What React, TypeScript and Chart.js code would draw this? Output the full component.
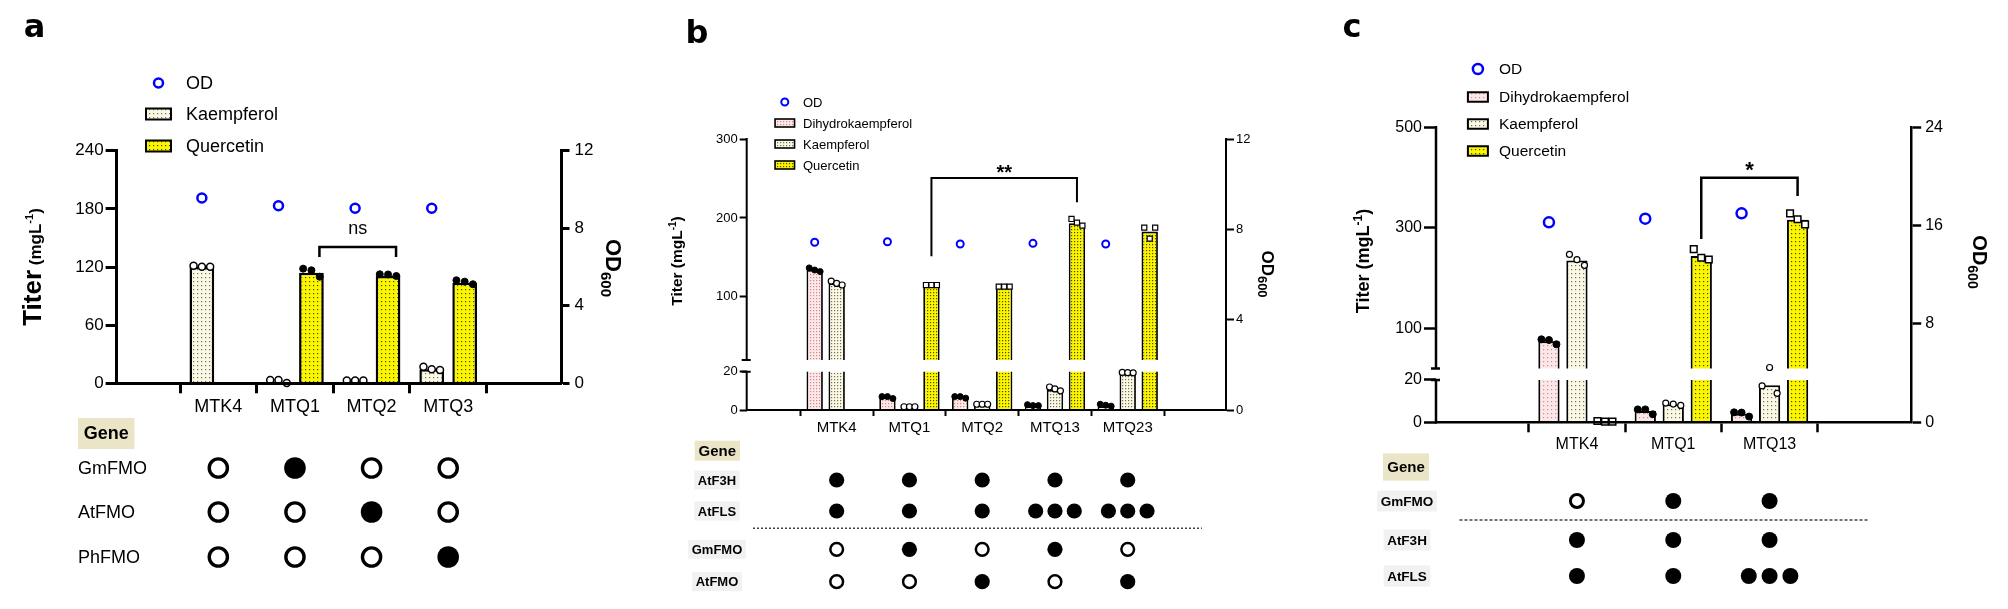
import React, { useEffect, useRef } from 'react';
import { Chart, registerables, LinearScale } from 'chart.js';

Chart.register(...registerables);

// ================= DATA =================
// ---- panel a ----
const categoriesA = ['MTK4', 'MTQ1', 'MTQ2', 'MTQ3'];
const kaempferolA = [120, 1.5, 2, 14.4];
const quercetinA = [null, 114, 110.7, 103.8];
const kaempferolRepsA = [[121.4, 120.3, 120.3], [3.4, 3.4, 0.4], [3, 3, 3], [17.1, 14.4, 13.7]];
const quercetinRepsA = [[null, null, null], [118.3, 116.6, 110], [112.5, 112.3, 110.7], [106.3, 104.9, 102.2]];
const odA = [9.56, 9.16, 9.03, 9.03];
const titerTicksA = [0, 60, 120, 180, 240];
const odTicksA = [0, 4, 8, 12];
const gmfmoA = [0, 1, 0, 0];
const atfmoA = [0, 0, 1, 0];
const phfmoA = [0, 0, 0, 1];
const sigA = { from: 1, to: 2, series: 1, top: 140.7, leftEnd: 130.3, rightEnd: 130.3, label: 'ns' };

// ---- panel b ----
const categoriesB = ['MTK4', 'MTQ1', 'MTQ2', 'MTQ13', 'MTQ23'];
const dihydrokaempferolB = [134, 6.5, 6.5, 1.8, 1.8];
const kaempferolB = [117, 1.5, 2.6, 10.5, 18.8];
const quercetinB = [null, 114.3, 112.2, 193.3, 182.7];
const dihydrokaempferolRepsB = [[136.7, 134, 132], [7, 7, 6], [7, 7, 6.2], [2.8, 2.3, 2.3], [3, 2.5, 2]];
const kaempferolRepsB = [[120, 117, 115], [1.7, 1.7, 1.7], [3, 3, 3], [12, 11, 10], [19.6, 19.5, 19.4]];
const quercetinRepsB = [[null, null, null], [115, 115, 115], [113, 113, 113], [198.7, 194, 190.3], [187.7, 173.8, 187.7]];
const odB = [7.43, 7.45, 7.35, 7.38, 7.35];
const titerTicksB = [0, 20, 100, 200, 300];
const odTicksB = [0, 4, 8, 12];
const atf3hB = [1, 1, 1, 1, 1];
const atflsB = [1, 1, 1, 3, 3];
const gmfmoB = [0, 1, 0, 1, 0];
const atfmoB = [0, 0, 1, 0, 1];
const sigB = { from: 1, to: 3, series: 2, top: 250.6, leftEnd: 151.5, rightEnd: 219.9, label: '**' };

// ---- panel c ----
const categoriesC = ['MTK4', 'MTQ1', 'MTQ13'];
const dihydrokaempferolC = [74.3, 5.3, 4];
const kaempferolC = [235, 8.5, 17.5];
const quercetinC = [null, 244, 316];
const dihydrokaempferolRepsC = [[78.1, 76.7, 68.2], [6.1, 6.1, 3.8], [4.7, 4.6, 2.7]];
const kaempferolRepsC = [[247, 236.5, 225.3], [9.1, 8.6, 8], [17.2, 22, 13.7]];
const quercetinRepsC = [[0.6, 0.3, 0.3], [257.6, 240.4, 237], [328.6, 317, 306.7]];
const odC = [16.27, 16.57, 17.0];
const titerTicksC = [0, 20, 100, 300, 500];
const odTicksC = [0, 8, 16, 24];
const gmfmoC = [0, 1, 1];
const atf3hC = [1, 1, 1];
const atflsC = [1, 1, 3];
const sigC = { from: 1, to: 2, series: 2, top: 399.7, leftEnd: 277.7, rightEnd: 363.3, label: '*' };

// ================= LAYOUT / STYLE =================
const FF = '"Liberation Sans", Arial, Helvetica, sans-serif';
const YW = 45; // left axis box width
const Y2W = 40; // right axis box width
const XH = 40; // x axis box height

class BrokenLinearScale extends LinearScale {
  static id = 'brokenLinear';
  static defaults = {};
  getPixelForValue(value: any) {
    const b = (this.options as any).brk;
    if (!b || value === null || value === undefined || isNaN(value)) return super.getPixelForValue(value);
    const H = this.bottom - this.top;
    const lowH = H * b.lowFrac;
    const upH = H - lowH - b.gap;
    if (value <= b.at) return this.bottom - ((value - this.min) / (b.at - this.min)) * lowH;
    return this.bottom - lowH - b.gap - ((value - b.at) / (this.max - b.at)) * upH;
  }
  getValueForPixel(pixel: number) {
    const b = (this.options as any).brk;
    if (!b) return super.getValueForPixel(pixel);
    const H = this.bottom - this.top;
    const lowH = H * b.lowFrac;
    const upH = H - lowH - b.gap;
    const d = this.bottom - pixel;
    if (d <= lowH) return this.min + (d / lowH) * (b.at - this.min);
    return b.at + ((d - lowH - b.gap) / upH) * (this.max - b.at);
  }
}
Chart.register(BrokenLinearScale as any);

const PANEL_A: any = {
  left: 0, width: 650,
  area: { l: 116.6, r: 561.5, t: 150.7, b: 383.3 },
  cats: categoriesA, xMin: -0.602, xMax: 3.753,
  catPct: 0.86, barPct: 0.75, jit: 0.108,
  series: [
    { name: 'Kaempferol', kind: 'kaemp', bars: kaempferolA, reps: kaempferolRepsA },
    { name: 'Quercetin', kind: 'querc', bars: quercetinA, reps: quercetinRepsA },
  ],
  od: odA, yMax: 240, yTicks: titerTicksA, odMax: 12, odTicks: odTicksA, brk: null,
  st: {
    axisW: 3, yFont: 17, xFont: 18, y2Font: 17, yTickLen: 11, yPad: 2, y2TickLen: 8, y2Pad: 5,
    xTickLen: 10, xPad: 3, barBorder: 2.5, patStep: 4, odR: 4.5, odW: 2.5,
    marks: {
      kaemp: { style: 'circle', r: 3.5, fill: '#ffffff', bw: 1.5 },
      querc: { style: 'circle', r: 3.5, fill: '#000000', bw: 1 },
    },
  },
  letter: { t: 'a', x: 34.6, y: 37 },
  legend: { mx: 158.5, tx: 186, rows: [83, 114, 146], font: 18, boxW: 25, boxH: 11, boxBw: 2, odR: 4.5, odW: 2.5 },
  leftTitle: { cx: 32, cy: 267, base: 9.4, parts: [
    { t: 'Titer', size: 26, bold: true }, { t: ' (mgL', size: 17, bold: true },
    { t: '-1', size: 11, bold: true, dy: -8 }, { t: ')', size: 17, bold: true }] },
  rightTitle: { cx: 614, cy: 268, base: 7.9, parts: [
    { t: 'OD', size: 22, bold: true }, { t: '600', size: 15, bold: true, dy: 5 }] },
  sig: { ...sigA, dx: 8, font: `18px ${FF}`, dy: -13.3, lw: 2.5 },
  table: {
    hx0: 78, hx1: 134.5, hy0: 418, hy1: 449, hFont: 18,
    boxLabels: false, labelX: 78, labelFont: `18px ${FF}`,
    rows: [{ label: 'GmFMO', vals: gmfmoA, y: 468 }, { label: 'AtFMO', vals: atfmoA, y: 512 }, { label: 'PhFMO', vals: phfmoA, y: 557 }],
    r: 10.8, sw: 3.4, gap3: 20, dotted: null,
  },
};

const PANEL_B: any = {
  left: 650, width: 680,
  area: { l: 746.7, r: 1226, t: 139, b: 410 },
  cats: categoriesB, xMin: -0.578, xMax: 4.692,
  catPct: 0.907, barPct: 0.745, jit: 0.075,
  series: [
    { name: 'Dihydrokaempferol', kind: 'dhk', bars: dihydrokaempferolB, reps: dihydrokaempferolRepsB },
    { name: 'Kaempferol', kind: 'kaemp', bars: kaempferolB, reps: kaempferolRepsB },
    { name: 'Quercetin', kind: 'querc', bars: quercetinB, reps: quercetinRepsB },
  ],
  od: odB, yMax: 300, yTicks: titerTicksB, odMax: 12, odTicks: odTicksB,
  brk: { at: 20, lowFrac: 0.1413, gap: 11.7 },
  st: {
    axisW: 2, yFont: 13, xFont: 15, y2Font: 13, yTickLen: 7, yPad: 2, y2TickLen: 8, y2Pad: 2,
    xTickLen: 6, xPad: 3, barBorder: 1.8, patStep: 3, odR: 3.5, odW: 2,
    marks: {
      dhk: { style: 'circle', r: 3, fill: '#000000', bw: 1 },
      kaemp: { style: 'circle', r: 3, fill: '#ffffff', bw: 1.2 },
      querc: { style: 'rect', r: 3.6, fill: '#ffffff', bw: 1.2 },
    },
  },
  letter: { t: 'b', x: 697, y: 43 },
  legend: { mx: 784.8, tx: 803, rows: [102, 123, 144, 165], font: 13, boxW: 19.5, boxH: 8, boxBw: 1.6, odR: 3.5, odW: 2 },
  leftTitle: { cx: 676, cy: 261, base: 5.6, parts: [
    { t: 'Titer (mgL', size: 15.5, bold: true }, { t: '-1', size: 10, bold: true, dy: -6 }, { t: ')', size: 15.5, bold: true }] },
  rightTitle: { cx: 1268, cy: 274, base: 6.1, parts: [
    { t: 'OD', size: 17, bold: true }, { t: '600', size: 13, bold: true, dy: 4 }] },
  sig: { ...sigB, dx: 0, font: `bold 20px ${FF}`, dy: 0.8, lw: 2 },
  table: {
    hx0: 694.7, hx1: 740, hy0: 440.7, hy1: 460.7, hFont: 15,
    boxLabels: true, labelCx: 717, labelFont: `bold 13px ${FF}`, labelBoxH: 19,
    rows: [{ label: 'AtF3H', vals: atf3hB, y: 480 }, { label: 'AtFLS', vals: atflsB, y: 511 },
      { label: 'GmFMO', vals: gmfmoB, y: 549.3 }, { label: 'AtFMO', vals: atfmoB, y: 581.7 }],
    r: 7.6, sw: 2.5, gap3: 19.3, dotted: { y: 528.3, x0: 753, x1: 1202, dash: [2, 2], lw: 1.6 },
  },
};

const PANEL_C: any = {
  left: 1330, width: 678,
  area: { l: 1436, r: 1911.2, t: 127.3, b: 422.3 },
  cats: categoriesC, xMin: -0.641, xMax: 2.648,
  catPct: 0.872, barPct: 0.76, jit: 0.078,
  series: [
    { name: 'Dihydrokaempferol', kind: 'dhk', bars: dihydrokaempferolC, reps: dihydrokaempferolRepsC },
    { name: 'Kaempferol', kind: 'kaemp', bars: kaempferolC, reps: kaempferolRepsC },
    { name: 'Quercetin', kind: 'querc', bars: quercetinC, reps: quercetinRepsC },
  ],
  od: odC, yMax: 500, yTicks: titerTicksC, odMax: 24, odTicks: odTicksC,
  brk: { at: 20, lowFrac: 0.1434, gap: 11.5 },
  st: {
    axisW: 2.5, yFont: 16, xFont: 16, y2Font: 16, yTickLen: 12, yPad: 2, y2TickLen: 10, y2Pad: 4,
    xTickLen: 10, xPad: 3, barBorder: 2, patStep: 4, odR: 5, odW: 2.5,
    marks: {
      dhk: { style: 'circle', r: 3.5, fill: '#000000', bw: 1 },
      kaemp: { style: 'circle', r: 3, fill: '#ffffff', bw: 1.2 },
      querc: { style: 'rect', r: 4.7, fill: '#ffffff', bw: 1.5 },
    },
  },
  letter: { t: 'c', x: 1352, y: 37 },
  legend: { mx: 1477.9, tx: 1499, rows: [69, 97, 124, 151], font: 15.5, boxW: 20, boxH: 9.5, boxBw: 2, odR: 5, odW: 2.5 },
  leftTitle: { cx: 1362, cy: 261, base: 6.5, parts: [
    { t: 'Titer (mgL', size: 18, bold: true }, { t: '-1', size: 12, bold: true, dy: -7 }, { t: ')', size: 18, bold: true }] },
  rightTitle: { cx: 1980, cy: 262, base: 7.2, parts: [
    { t: 'OD', size: 20, bold: true }, { t: '600', size: 14, bold: true, dy: 5 }] },
  sig: { ...sigC, dx: 0, font: `bold 22px ${FF}`, dy: -1, lw: 2.5 },
  table: {
    hx0: 1383, hx1: 1429, hy0: 453.3, hy1: 480.7, hFont: 15,
    boxLabels: true, labelCx: 1407, labelFont: `bold 13.5px ${FF}`, labelBoxH: 21,
    rows: [{ label: 'GmFMO', vals: gmfmoC, y: 501 }, { label: 'AtF3H', vals: atf3hC, y: 540 }, { label: 'AtFLS', vals: atflsC, y: 576 }],
    r: 8, sw: 3, gap3: 20.8, dotted: { y: 520, x0: 1459.5, x1: 1868.5, dash: [3, 2], lw: 1.3 },
  },
};

const PANELS = [PANEL_A, PANEL_B, PANEL_C];

// ================= DRAWING HELPERS =================
function makePattern(bg: string, dot: string, step: number) {
  const c = document.createElement('canvas');
  c.width = step; c.height = step;
  const g = c.getContext('2d')!;
  g.fillStyle = bg; g.fillRect(0, 0, step, step);
  g.fillStyle = dot; g.fillRect(1, 1, 1.2, 1.2);
  return g.createPattern(c, 'repeat')!;
}

function drawRich(ctx: CanvasRenderingContext2D, spec: any, L: number, rot: number) {
  ctx.save();
  ctx.translate(spec.cx - L, spec.cy);
  ctx.rotate(rot);
  ctx.textAlign = 'left';
  ctx.textBaseline = 'alphabetic';
  ctx.fillStyle = '#000';
  const fontOf = (p: any) => `${p.bold ? 'bold ' : ''}${p.size}px ${FF}`;
  let total = 0;
  const ws = spec.parts.map((p: any) => { ctx.font = fontOf(p); const w = ctx.measureText(p.t).width; total += w; return w; });
  let x = -total / 2;
  spec.parts.forEach((p: any, i: number) => {
    ctx.font = fontOf(p);
    ctx.fillText(p.t, x, spec.base + (p.dy || 0));
    x += ws[i];
  });
  ctx.restore();
}

function gapGeom(chart: any, P: any) {
  const ys = chart.scales.y;
  const H = ys.bottom - ys.top;
  const lowH = H * P.brk.lowFrac;
  return { lowTop: ys.bottom - lowH, upBottom: ys.bottom - lowH - P.brk.gap };
}

function drawGap(chart: any, P: any) {
  const ctx = chart.ctx;
  const ca = chart.chartArea;
  const g = gapGeom(chart, P);
  ctx.save();
  ctx.fillStyle = '#ffffff';
  ctx.fillRect(ca.left + 2, g.upBottom, ca.right - ca.left - 4, g.lowTop - g.upBottom);
  ctx.restore();
}

function drawDecor(chart: any, P: any, pats: any, slot: (j: number) => number) {
  const ctx: CanvasRenderingContext2D = chart.ctx;
  const L = P.left;
  const st = P.st;
  const xs = chart.scales.x;
  const ys = chart.scales.y;
  ctx.save();

  // panel letter
  ctx.fillStyle = '#000';
  ctx.font = `bold 32px "DejaVu Sans", ${FF}`;
  ctx.textAlign = 'center';
  ctx.textBaseline = 'alphabetic';
  ctx.fillText(P.letter.t, P.letter.x - L, P.letter.y);

  // legend
  const lg = P.legend;
  const items = [{ od: true, label: 'OD' }, ...P.series.map((s: any) => ({ kind: s.kind, label: s.name }))];
  items.forEach((it: any, i: number) => {
    const y = lg.rows[i];
    if (it.od) {
      ctx.beginPath();
      ctx.arc(lg.mx - L, y, lg.odR, 0, Math.PI * 2);
      ctx.strokeStyle = '#0000ff';
      ctx.lineWidth = lg.odW;
      ctx.stroke();
    } else {
      const bx = lg.mx - L - lg.boxW / 2, by = y - lg.boxH / 2;
      ctx.fillStyle = pats[it.kind];
      ctx.fillRect(bx, by, lg.boxW, lg.boxH);
      ctx.strokeStyle = '#000';
      ctx.lineWidth = lg.boxBw;
      ctx.strokeRect(bx, by, lg.boxW, lg.boxH);
    }
    ctx.fillStyle = '#000';
    ctx.font = `${lg.font}px ${FF}`;
    ctx.textAlign = 'left';
    ctx.textBaseline = 'middle';
    ctx.fillText(it.label, lg.tx - L, y + 1);
  });

  // axis titles
  drawRich(ctx, P.leftTitle, L, -Math.PI / 2);
  drawRich(ctx, P.rightTitle, L, Math.PI / 2);

  // broken left axis
  if (P.brk) {
    const g = gapGeom(chart, P);
    const x0 = chart.chartArea.left;
    ctx.strokeStyle = '#000';
    ctx.lineWidth = st.axisW;
    ctx.lineCap = 'butt';
    ctx.beginPath();
    ctx.moveTo(x0, ys.bottom + st.axisW / 2);
    ctx.lineTo(x0, g.lowTop);
    ctx.moveTo(x0, g.upBottom);
    ctx.lineTo(x0, ys.top - st.axisW / 2);
    ctx.stroke();
    ctx.beginPath();
    [g.lowTop, g.upBottom].forEach((yy) => { ctx.moveTo(x0 - 5, yy); ctx.lineTo(x0 + 4, yy); });
    ctx.stroke();
  }

  // significance bracket
  const sg = P.sig;
  const bx1 = xs.getPixelForValue(sg.from + slot(sg.series)) + sg.dx;
  const bx2 = xs.getPixelForValue(sg.to + slot(sg.series)) + sg.dx;
  const byT = ys.getPixelForValue(sg.top);
  const byL = ys.getPixelForValue(sg.leftEnd);
  const byR = ys.getPixelForValue(sg.rightEnd);
  ctx.strokeStyle = '#000';
  ctx.lineWidth = sg.lw;
  ctx.lineJoin = 'miter';
  ctx.beginPath();
  ctx.moveTo(bx1, byL); ctx.lineTo(bx1, byT); ctx.lineTo(bx2, byT); ctx.lineTo(bx2, byR);
  ctx.stroke();
  ctx.fillStyle = '#000';
  ctx.font = sg.font;
  ctx.textAlign = 'center';
  ctx.textBaseline = 'alphabetic';
  ctx.fillText(sg.label, (bx1 + bx2) / 2, byT + sg.dy);

  // gene table
  const T = P.table;
  ctx.fillStyle = '#ebe5c7';
  ctx.fillRect(T.hx0 - L, T.hy0, T.hx1 - T.hx0, T.hy1 - T.hy0);
  ctx.fillStyle = '#000';
  ctx.font = `bold ${T.hFont}px ${FF}`;
  ctx.textAlign = 'center';
  ctx.textBaseline = 'middle';
  ctx.fillText('Gene', (T.hx0 + T.hx1) / 2 - L, (T.hy0 + T.hy1) / 2 + 1);

  T.rows.forEach((row: any) => {
    ctx.font = T.labelFont;
    ctx.textBaseline = 'middle';
    if (T.boxLabels) {
      const w = ctx.measureText(row.label).width + 7;
      ctx.fillStyle = '#f1f1f1';
      ctx.fillRect(T.labelCx - L - w / 2, row.y - T.labelBoxH / 2, w, T.labelBoxH);
      ctx.fillStyle = '#000';
      ctx.textAlign = 'center';
      ctx.fillText(row.label, T.labelCx - L, row.y + 1);
    } else {
      ctx.fillStyle = '#000';
      ctx.textAlign = 'left';
      ctx.fillText(row.label, T.labelX - L, row.y + 1);
    }
    row.vals.forEach((v: number, i: number) => {
      const cx = xs.getPixelForValue(i);
      if (v === 0) {
        ctx.beginPath();
        ctx.arc(cx, row.y, T.r - T.sw / 2, 0, Math.PI * 2);
        ctx.strokeStyle = '#000';
        ctx.lineWidth = T.sw;
        ctx.stroke();
      } else {
        for (let m = 0; m < v; m++) {
          ctx.beginPath();
          ctx.arc(cx + (m - (v - 1) / 2) * T.gap3, row.y, T.r, 0, Math.PI * 2);
          ctx.fillStyle = '#000';
          ctx.fill();
        }
      }
    });
  });

  if (T.dotted) {
    const d = T.dotted;
    ctx.strokeStyle = '#444';
    ctx.lineWidth = d.lw;
    ctx.setLineDash(d.dash);
    ctx.beginPath();
    ctx.moveTo(d.x0 - L, d.y);
    ctx.lineTo(d.x1 - L, d.y);
    ctx.stroke();
    ctx.setLineDash([]);
  }
  ctx.restore();
}

function makeChart(canvas: HTMLCanvasElement, P: any) {
  const st = P.st;
  const pats: any = {
    dhk: makePattern('#fde8e9', '#d08c8c', st.patStep),
    kaemp: makePattern('#fbf8e3', '#707060', st.patStep),
    querc: makePattern('#fbf600', '#4a4a1a', st.patStep),
  };
  const n = P.series.length;
  const slot = (j: number) => (j + 0.5 - n / 2) * P.catPct / n;

  const datasets: any[] = [];
  P.series.forEach((s: any) => {
    datasets.push({
      type: 'bar', label: s.name,
      data: s.bars.map((v: any, i: number) => ({ x: i, y: v })),
      backgroundColor: pats[s.kind], borderColor: '#000', borderWidth: st.barBorder,
      borderSkipped: 'start', categoryPercentage: P.catPct, barPercentage: P.barPct,
      yAxisID: 'y', order: 2,
    });
  });
  P.series.forEach((s: any, j: number) => {
    const m = st.marks[s.kind];
    const pts: any[] = [];
    s.reps.forEach((arr: any[], i: number) => arr.forEach((v: any, k: number) => {
      if (v !== null && v !== undefined) pts.push({ x: i + slot(j) + (k - 1) * P.jit, y: v });
    }));
    datasets.push({
      type: 'scatter', label: s.name + ' replicates', data: pts, showLine: false,
      pointStyle: m.style, pointRadius: m.r, pointHoverRadius: m.r,
      pointBackgroundColor: m.fill, pointBorderColor: '#000', pointBorderWidth: m.bw,
      yAxisID: 'y', order: 1, clip: false,
    });
  });
  datasets.push({
    type: 'scatter', label: 'OD', data: P.od.map((v: number, i: number) => ({ x: i + slot(0), y: v })),
    showLine: false, pointStyle: 'circle', pointRadius: st.odR, pointHoverRadius: st.odR,
    pointBackgroundColor: 'rgba(0,0,0,0)', pointBorderColor: '#0000ff', pointBorderWidth: st.odW,
    yAxisID: 'y2', order: 0, clip: false,
  });

  const A = P.area;
  const padding = {
    left: A.l - P.left - YW,
    right: P.left + P.width - A.r - Y2W,
    top: A.t,
    bottom: 609 - A.b - XH,
  };

  const plugin = {
    id: 'panelDecor',
    beforeDatasetsDraw(chart: any) { chart.$gapDone = false; },
    beforeDatasetDraw(chart: any, args: any) {
      if (P.brk && !chart.$gapDone && args.meta.type === 'scatter') { drawGap(chart, P); chart.$gapDone = true; }
    },
    afterDatasetsDraw(chart: any) {
      if (P.brk && !chart.$gapDone) { drawGap(chart, P); chart.$gapDone = true; }
    },
    afterDraw(chart: any) { drawDecor(chart, P, pats, slot); },
  };

  return new Chart(canvas, {
    type: 'bar',
    data: { datasets },
    options: {
      responsive: false,
      maintainAspectRatio: false,
      animation: false,
      events: [],
      layout: { padding },
      plugins: { legend: { display: false }, tooltip: { enabled: false } },
      scales: {
        x: {
          type: 'linear', min: P.xMin, max: P.xMax,
          afterBuildTicks: (sc: any) => { sc.ticks = P.cats.map((_: any, i: number) => ({ value: i })); },
          afterFit: (sc: any) => { sc.height = XH; },
          ticks: {
            callback: (v: any) => P.cats[v] ?? '', color: '#000',
            font: { family: FF, size: st.xFont }, padding: st.xPad,
            autoSkip: false, maxRotation: 0, minRotation: 0,
          },
          grid: { display: true, drawOnChartArea: false, drawTicks: true, tickLength: st.xTickLen, tickWidth: st.axisW, color: '#000' },
          border: { display: true, color: '#000', width: st.axisW, z: 1 },
        },
        y: {
          type: P.brk ? 'brokenLinear' : 'linear', position: 'left', min: 0, max: P.yMax, brk: P.brk,
          afterBuildTicks: (sc: any) => { sc.ticks = P.yTicks.map((v: number) => ({ value: v })); },
          afterFit: (sc: any) => { sc.width = YW; },
          ticks: { color: '#000', font: { family: FF, size: st.yFont }, padding: st.yPad, callback: (v: any) => String(v) },
          grid: { display: true, drawOnChartArea: false, drawTicks: true, tickLength: st.yTickLen, tickWidth: st.axisW, color: '#000' },
          border: { display: !P.brk, color: '#000', width: st.axisW, z: 1 },
        },
        y2: {
          type: 'linear', position: 'right', min: 0, max: P.odMax,
          afterBuildTicks: (sc: any) => { sc.ticks = P.odTicks.map((v: number) => ({ value: v })); },
          afterFit: (sc: any) => { sc.width = Y2W; },
          ticks: { color: '#000', font: { family: FF, size: st.y2Font }, padding: st.y2Pad, callback: (v: any) => String(v) },
          grid: { display: true, drawOnChartArea: false, drawTicks: true, tickLength: st.y2TickLen, tickWidth: st.axisW, color: '#000' },
          border: { display: true, color: '#000', width: st.axisW, z: 1 },
        },
      } as any,
    },
    plugins: [plugin],
  } as any);
}

export default function App() {
  const refA = useRef<HTMLCanvasElement>(null);
  const refB = useRef<HTMLCanvasElement>(null);
  const refC = useRef<HTMLCanvasElement>(null);
  const refs = [refA, refB, refC];

  useEffect(() => {
    const charts = PANELS.map((p, i) => makeChart(refs[i].current!, p));
    return () => charts.forEach((c) => c.destroy());
  }, []);

  return (
    <div style={{ position: 'fixed', left: 0, top: 0, width: 2008, height: 609, background: '#ffffff', overflow: 'hidden' }}>
      {PANELS.map((p, i) => (
        <canvas
          key={i}
          ref={refs[i]}
          width={p.width}
          height={609}
          style={{ position: 'absolute', left: p.left, top: 0, width: p.width, height: 609 }}
        />
      ))}
    </div>
  );
}
